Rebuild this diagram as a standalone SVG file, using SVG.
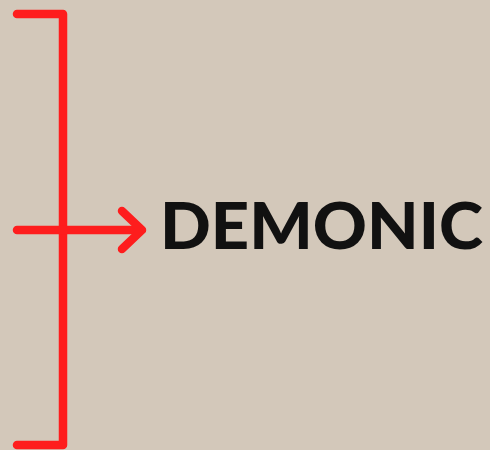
<svg xmlns="http://www.w3.org/2000/svg" width="490" height="450" viewBox="0 0 490 450">
<style>
.ln{fill:none;stroke:#fe1d1d;stroke-width:8.5;stroke-linecap:round;stroke-linejoin:round}
.t{font-family:"Lato","Liberation Sans",sans-serif;font-weight:900;font-size:64px;fill:#111}
</style>
<rect width="490" height="450" fill="#d3c8ba"/>
<g id="connectors">
<path class="ln" d="M17,14 H63 V445 H17"/>
<path class="ln" d="M17,230 H141"/>
<path class="ln" d="M122,211 L142,230 L122,249"/>
</g>
<g id="demonic">
<text class="t" x="160" y="249" textLength="323" lengthAdjust="spacingAndGlyphs">DEMONIC</text>
</g>
</svg>
